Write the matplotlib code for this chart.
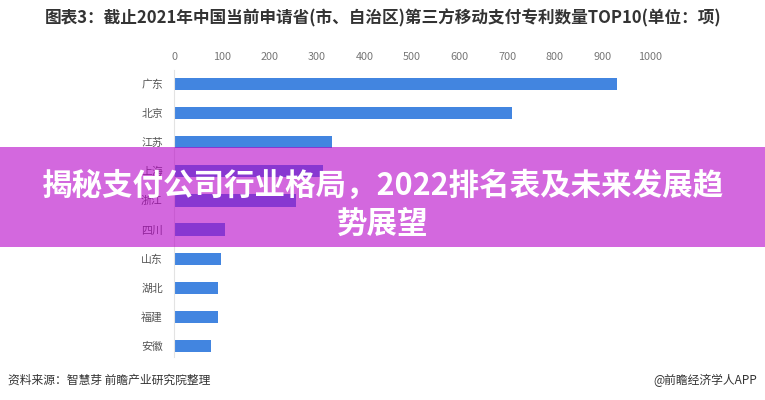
import matplotlib.pyplot as plt
from matplotlib.patches import Rectangle

plt.rcParams['font.family'] = ['Noto Sans CJK SC', 'DejaVu Sans']

PROVINCES = ["广东", "北京", "江苏", "上海", "浙江", "四川", "山东", "湖北", "福建", "安徽"]
PATENTS = [931, 710, 332, 313, 256, 107, 99, 92, 92, 78]
X_TICKS = [0, 100, 200, 300, 400, 500, 600, 700, 800, 900, 1000]

TITLE = "图表3：截止2021年中国当前申请省(市、自治区)第三方移动支付专利数量TOP10(单位：项)"
BANNER = "揭秘支付公司行业格局，2022排名表及未来发展趋\n势展望"
SOURCE = "资料来源：智慧芽 前瞻产业研究院整理"
BRAND = "@前瞻经济学人APP"


def main():
    W, H = 765, 400
    fig = plt.figure(figsize=(W / 100, H / 100), dpi=100)
    ax = fig.add_axes([174 / W, 1 - 357 / H, (650 - 174) / W, (357 - 70) / H])

    pos = list(range(len(PROVINCES)))
    ax.barh(pos, PATENTS, height=0.42, color="#4285e0", zorder=2)
    ax.set_ylim(9.38, -0.48)
    ax.set_xlim(0, 1000)
    ax.set_yticks(pos)
    ax.set_yticklabels(PROVINCES, fontsize=7.8, color="#555555")
    ax.set_xticks(X_TICKS)
    ax.set_xticklabels([str(t) for t in X_TICKS], fontsize=7.8, color="#777777")
    ax.xaxis.tick_top()
    ax.tick_params(axis="both", length=0)
    ax.tick_params(axis="x", pad=6)
    ax.tick_params(axis="y", pad=8)
    for side in ["top", "right", "bottom"]:
        ax.spines[side].set_visible(False)
    ax.spines["left"].set_color("#e3e3e3")

    fig.text(383 / W, 1 - 18 / H, TITLE, ha="center", va="center",
             fontsize=12, fontweight="bold", color="#333333")
    fig.text(8 / W, 1 - 380 / H, SOURCE, ha="left", va="center",
             fontsize=8.5, color="#333333")
    fig.text(757 / W, 1 - 380 / H, BRAND, ha="right", va="center",
             fontsize=8.5, color="#333333")

    # translucent banner across the chart
    band = Rectangle((0, 1 - 247 / H), 1, 100 / H, transform=fig.transFigure,
                     facecolor="#b703c8", alpha=0.6, edgecolor="none", zorder=5)
    fig.add_artist(band)
    fig.text(0.5, 1 - 205 / H, BANNER, ha="center", va="center", fontsize=22,
             fontweight="bold", color="white", linespacing=1.22, zorder=6)

    fig.savefig("out.png", dpi=100)


if __name__ == "__main__":
    main()
